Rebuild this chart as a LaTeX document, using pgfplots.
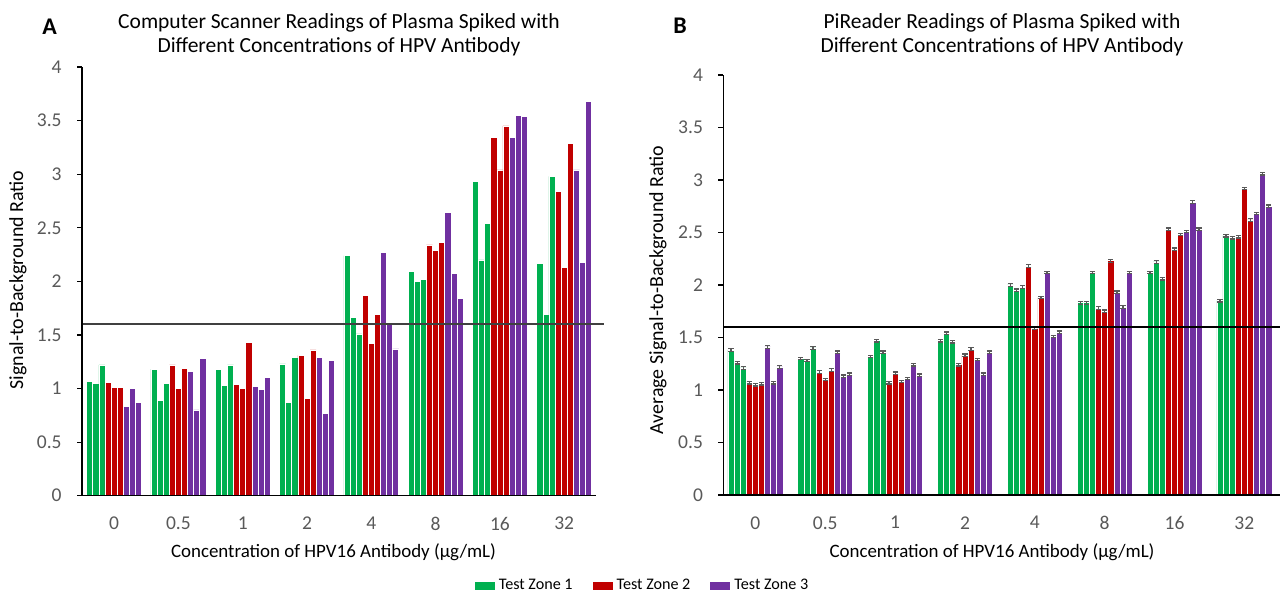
\documentclass[border=0pt]{standalone}
\usepackage{pgfplots}
\usepackage{pgfplotstable}
\usepackage{fontspec}
\pgfplotsset{compat=1.18}
\setmainfont{Carlito}

\definecolor{zgreen}{HTML}{00B050}
\definecolor{zred}{HTML}{C00000}
\definecolor{zpurple}{HTML}{7030A0}
\definecolor{tickgray}{HTML}{595959}

% columns: group index, then test zone 1/2/3, three readings each
\pgfplotstableread{
x g1 g2 g3 r1 r2 r3 p1 p2 p3
0 1.07 1.05 1.22 1.06 1.01 1.01 0.83 1.00 0.87
1 1.18 0.89 1.05 1.22 1.00 1.19 1.16 0.80 1.28
2 1.18 1.03 1.22 1.04 1.00 1.43 1.02 0.99 1.10
3 1.23 0.87 1.29 1.31 0.91 1.36 1.29 0.77 1.26
4 2.24 1.66 1.51 1.87 1.42 1.69 2.27 1.61 1.37
5 2.09 2.00 2.02 2.34 2.29 2.36 2.64 2.07 1.84
6 2.93 2.20 2.54 3.34 3.04 3.45 3.34 3.55 3.54
7 2.17 1.69 2.98 2.84 2.13 3.29 3.04 2.18 3.68
}\scannertab

\pgfplotstableread{
x g1 g2 g3 r1 r2 r3 p1 p2 p3
0 1.38 1.26 1.21 1.07 1.05 1.06 1.41 1.07 1.22
1 1.30 1.28 1.40 1.17 1.10 1.19 1.36 1.13 1.15
2 1.32 1.47 1.36 1.07 1.16 1.08 1.11 1.24 1.14
3 1.47 1.54 1.46 1.24 1.33 1.39 1.29 1.15 1.36
4 2.00 1.95 1.98 2.18 1.59 1.88 2.12 1.51 1.55
5 1.83 1.83 2.12 1.78 1.75 2.23 1.93 1.79 2.12
6 2.12 2.22 2.06 2.53 2.34 2.48 2.51 2.79 2.53
7 1.85 2.47 2.45 2.46 2.92 2.62 2.68 3.06 2.75
}\pireadertab

\pgfplotsset{
  zb/.style={ybar, bar shift=0pt, fill=#1, draw=white, line width=0.35bp},
  errs/.style={
    error bars/y dir=both, error bars/y fixed=0.012,
    error bars/error bar style={tickgray, line width=0.6bp},
    error bars/error mark options={rotate=90, mark size=1.3bp, tickgray, line width=0.6bp}},
  panel/.style={
    scale only axis, anchor=south west, clip=false, axis on top,
    ymin=0, ymax=4, ytick={0,0.5,...,4},
    xtick={0,...,7}, xticklabels={0,0.5,1,2,4,8,16,32},
    axis lines=left, axis line style={-, black, line width=0.75bp},
    tick align=outside, major tick length=2.5bp,
    ytick style={black, line width=0.6bp},
    xtick style={draw=none},
    tick label style={font=\fontsize{9.8}{11}\selectfont, text=tickgray},
    yticklabel style={inner sep=0pt, xshift=-7.5bp},
    xticklabel style={inner sep=0pt, yshift=-8bp},
    /pgf/number format/assume math mode=true,
  },
}

\begin{document}
\begin{tikzpicture}
\path[use as bounding box] (0,0) rectangle (641.5bp,297.5bp);

\begin{axis}[panel, at={(41bp,49.65bp)}, width=257.2bp, height=214.35bp,
  xmin=-0.5, xmax=7.5, bar width=0.095]
  \addplot[zb=zgreen]  table[x expr=\thisrow{x}-0.38,  y=g1] {\scannertab};
  \addplot[zb=zgreen]  table[x expr=\thisrow{x}-0.285, y=g2] {\scannertab};
  \addplot[zb=zgreen]  table[x expr=\thisrow{x}-0.19,  y=g3] {\scannertab};
  \addplot[zb=zred]    table[x expr=\thisrow{x}-0.095, y=r1] {\scannertab};
  \addplot[zb=zred]    table[x=x,                      y=r2] {\scannertab};
  \addplot[zb=zred]    table[x expr=\thisrow{x}+0.095, y=r3] {\scannertab};
  \addplot[zb=zpurple] table[x expr=\thisrow{x}+0.19,  y=p1] {\scannertab};
  \addplot[zb=zpurple] table[x expr=\thisrow{x}+0.285, y=p2] {\scannertab};
  \addplot[zb=zpurple] table[x expr=\thisrow{x}+0.38,  y=p3] {\scannertab};
  % cut-off line
  \addplot[sharp plot, color=black!75, line width=1bp] coordinates {(-0.5,1.6) (7.62,1.6)};
\end{axis}

\begin{axis}[panel, at={(361.65bp,50bp)}, width=278.35bp, height=210bp,
  xmin=-0.46, xmax=7.51, bar width=0.0875,
  legend style={at={(-0.1433,-0.2167)}, anchor=center, draw=none, fill=none,
    font=\fontsize{8.1}{9}\selectfont, legend columns=3,
    /tikz/every even column/.append style={column sep=8bp}},
  legend image code/.code={\path[#1] (0bp,-2bp) rectangle (10bp,2bp);}]
  \addlegendimage{fill=zgreen, draw=none}
  \addlegendimage{fill=zred, draw=none}
  \addlegendimage{fill=zpurple, draw=none}
  \legend{Test Zone 1, Test Zone 2, Test Zone 3}
  \addplot[zb=zgreen, errs]  table[x expr=\thisrow{x}-0.35,   y=g1] {\pireadertab};
  \addplot[zb=zgreen, errs]  table[x expr=\thisrow{x}-0.2625, y=g2] {\pireadertab};
  \addplot[zb=zgreen, errs]  table[x expr=\thisrow{x}-0.175,  y=g3] {\pireadertab};
  \addplot[zb=zred, errs]    table[x expr=\thisrow{x}-0.0875, y=r1] {\pireadertab};
  \addplot[zb=zred, errs]    table[x=x,                       y=r2] {\pireadertab};
  \addplot[zb=zred, errs]    table[x expr=\thisrow{x}+0.0875, y=r3] {\pireadertab};
  \addplot[zb=zpurple, errs] table[x expr=\thisrow{x}+0.175,  y=p1] {\pireadertab};
  \addplot[zb=zpurple, errs] table[x expr=\thisrow{x}+0.2625, y=p2] {\pireadertab};
  \addplot[zb=zpurple, errs] table[x expr=\thisrow{x}+0.35,   y=p3] {\pireadertab};
  \addplot[sharp plot, color=black, line width=0.8bp]
    coordinates {(-0.46,1.6) (7.51,1.6)};
\end{axis}

% panel letters, titles and axis labels
\node[font=\bfseries\fontsize{12}{14}\selectfont] at (24.75bp,284.2bp) {A};
\node[font=\bfseries\fontsize{12}{14}\selectfont] at (340bp,284.4bp) {B};
\node[align=center, font=\fontsize{10.8}{12}\selectfont] at (169.5bp,280bp)
  {Computer Scanner Readings of Plasma Spiked with\\Different Concentrations of HPV Antibody};
\node[align=center, font=\fontsize{10.8}{12}\selectfont] at (501bp,280bp)
  {PiReader Readings of Plasma Spiked with\\Different Concentrations of HPV Antibody};
\node[font=\fontsize{9.5}{11}\selectfont] at (166.75bp,21.5bp) {Concentration of HPV16 Antibody (μg/mL)};
\node[font=\fontsize{9.5}{11}\selectfont] at (496bp,21.5bp) {Concentration of HPV16 Antibody (μg/mL)};
\node[rotate=90, font=\fontsize{10}{11}\selectfont] at (9bp,157.5bp) {Signal-to-Background Ratio};
\node[rotate=90, font=\fontsize{10}{11}\selectfont] at (329bp,152.5bp) {Average Signal-to-Background Ratio};
\end{tikzpicture}
\end{document}
